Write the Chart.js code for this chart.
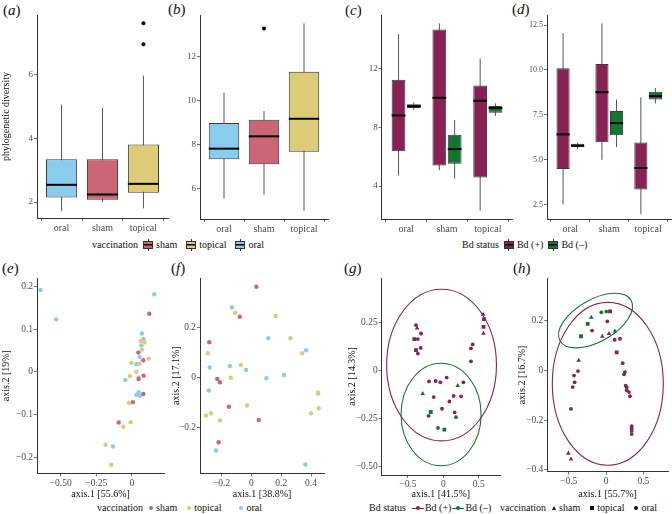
<!DOCTYPE html>
<html>
<head>
<meta charset="utf-8">
<script src="https://cdn.jsdelivr.net/npm/chart.js@4"></script>
<style>
  body { margin: 0; width: 672px; height: 514px; position: relative; overflow: hidden; background: #fff;
         font-family: "Liberation Serif", "DejaVu Serif", serif; color: #111; }
  canvas { position: absolute; }
  .lbl { position: absolute; font-size: 15px; line-height: 1; }
  .leg { position: absolute; font-size: 10px; line-height: 12px; white-space: nowrap; display: flex; align-items: center; }
  .key { position: relative; display: inline-block; width: 8px; height: 6px; border: 1px solid #333; margin: 0 3px 0 5px;
         background-image: linear-gradient(#000, #000); background-size: 100% 1.5px; background-position: center; background-repeat: no-repeat; }
  .key::before, .key::after { content: ''; position: absolute; left: 3.5px; width: 1px; height: 2px; background: #333; }
  .key::before { top: -3px; }
  .key::after { bottom: -3px; }
  .dot { display: inline-block; width: 4px; height: 4px; border-radius: 50%; margin: 0 3px 0 6px; }
  .ln { position: relative; display: inline-block; width: 12px; height: 1px; margin: 0 1px 0 1px; }
  .ln::after { content: ''; position: absolute; left: 4px; top: -1.5px; width: 4px; height: 4px; border-radius: 50%; background: inherit; }
  .tri { display: inline-block; width: 0; height: 0; border-left: 2.5px solid transparent; border-right: 2.5px solid transparent;
         border-bottom: 4.5px solid #111; margin: 0 3px 0 6px; }
  .sq { display: inline-block; width: 4px; height: 4px; background: #111; margin: 0 3px 0 10px; }
  .cdot { display: inline-block; width: 4px; height: 4px; border-radius: 50%; background: #111; margin: 0 3px 0 10px; }
</style>
</head>
<body>
<div class="lbl" style="left:3px;top:3px">(<i>a</i>)</div>
<div class="lbl" style="left:168px;top:2px">(<i>b</i>)</div>
<div class="lbl" style="left:345px;top:3px">(<i>c</i>)</div>
<div class="lbl" style="left:512px;top:2px">(<i>d</i>)</div>
<div class="lbl" style="left:2px;top:261px">(<i>e</i>)</div>
<div class="lbl" style="left:171px;top:261px">(<i>f</i>)</div>
<div class="lbl" style="left:344px;top:261px">(<i>g</i>)</div>
<div class="lbl" style="left:513px;top:261px">(<i>h</i>)</div>

<div class="leg" style="left:92px;top:239px">vaccination<span class="key" style="background-color:#CC6677"></span>sham<span class="key" style="background-color:#DDCC77;margin-left:9px"></span>topical<span class="key" style="background-color:#88CCEE;margin-left:9px"></span>oral</div>
<div class="leg" style="left:462px;top:239px">Bd status<span class="key" style="background-color:#882255"></span>Bd (+)<span class="key" style="background-color:#117733"></span>Bd (–)</div>
<div class="leg" style="left:97px;top:502px">vaccination<span class="dot" style="background:#CC6677"></span>sham<span class="dot" style="background:#DDCC77;margin-left:10px"></span>topical<span class="dot" style="background:#88CCEE;margin-left:18px"></span>oral</div>
<div class="leg" style="left:369px;top:502px">Bd status<span class="ln" style="background:#882255;margin-left:6px"></span>Bd (+)<span class="ln" style="background:#117733"></span>Bd (–)</div>
<div class="leg" style="left:500px;top:502px">vaccination<span class="tri"></span>sham<span class="sq"></span>topical<span class="cdot"></span>oral</div>

<script>
const serif = '"Liberation Serif", "DejaVu Serif", serif';
const vaccNames = ['oral', 'sham', 'topical'];
const vaccColours = ['#88CCEE', '#CC6677', '#DDCC77'];
const bdPosColour = '#882255';
const bdNegColour = '#117733';

// box stats: [lower whisker, Q1, median, Q3, upper whisker] for oral, sham, topical
const aStats = [[1.71, 2.14, 2.54, 3.34, 5.05], [2.0, 2.07, 2.24, 3.34, 4.95], [1.8, 2.29, 2.57, 3.80, 5.96]];
const aOutliers = [[3, 7.6], [3, 6.94]];
const aTicks = [2, 4, 6];

const bStats = [[5.55, 7.34, 7.82, 8.99, 10.36], [5.74, 7.11, 8.38, 9.14, 9.53], [5.0, 7.68, 9.18, 11.32, 13.52]];
const bOutliers = [[2, 13.29]];
const bTicks = [6, 8, 10, 12];

const cPos = [[4.72, 6.37, 8.8, 11.22, 14.33], [5.08, 5.40, 10.0, 14.65, 15.06], [2.34, 4.59, 9.80, 10.84, 12.68]];
const cNeg = [[9.18, 9.3, 9.43, 9.57, 9.69], [4.51, 5.51, 6.51, 7.48, 8.48], [8.77, 8.98, 9.3, 9.44, 9.62]];
const cTicks = [4, 8, 12];

const dPos = [[2.52, 4.49, 6.41, 10.09, 12.05], [5.0, 5.98, 8.76, 10.33, 12.59], [1.96, 3.34, 4.54, 5.96, 8.48]];
const dNeg = [[5.59, 5.70, 5.78, 5.89, 5.96], [5.71, 6.37, 7.04, 7.72, 8.35], [8.14, 8.35, 8.54, 8.78, 8.99]];
const dTicks = [2.5, 5, 7.5, 10, 12.5];

// ordinations (axis.1, axis.2)
const eSham = [[0.122, 0.136], [0.045, 0.045], [0.080, 0.027], [0.047, -0.017], [0.082, -0.009], [0.080, -0.052], [0.007, -0.071], [-0.093, -0.119]];
const eTopical = [[0.061, 0.072], [0.089, 0.069], [0.070, 0.052], [-0.004, 0.021], [0.052, 0.019], [0.117, 0.031], [0.031, 0], [-0.014, -0.010],
  [-0.021, -0.073], [-0.009, -0.118], [-0.060, -0.129], [-0.185, -0.171], [-0.145, -0.218]];
const eOral = [[-0.641, 0.192], [-0.531, 0.123], [0.157, 0.182], [0.070, 0.090], [0.082, 0.077], [0.066, 0.062], [0.054, 0.035], [0.031, 0.018],
  [-0.046, -0.019], [0.047, -0.014], [0.047, -0.048], [0.031, -0.054], [0.057, -0.056], [-0.133, -0.175]];
const eTicksX = [-0.5, -0.25, 0];
const eTicksY = [-0.2, -0.1, 0, 0.1, 0.2];

const fSham = [[0.033, 0.362], [-0.078, 0.242], [-0.283, 0.140], [-0.229, -0.007], [-0.211, -0.020], [-0.151, -0.118], [0.049, -0.171], [-0.220, -0.260]];
const fTopical = [[-0.109, 0.258], [0.162, 0.245], [0.262, 0.156], [-0.293, 0.096], [0.340, 0.096], [-0.071, 0.049], [-0.138, -0.002], [-0.029, -0.113],
  [-0.271, -0.144], [-0.305, -0.153], [-0.211, -0.173], [0.4, -0.144], [0.447, -0.061], [0.447, -0.066], [0.451, -0.124]];
const fOral = [[-0.131, 0.279], [0.113, 0.156], [0.367, 0.108], [-0.280, 0.039], [-0.145, 0.045], [-0.036, 0.029], [0.1, -0.004], [0.218, 0.009],
  [-0.285, -0.053], [-0.238, -0.293], [0.362, -0.349]];
const fTicksX = [-0.2, 0, 0.2, 0.4];
const fTicksY = [-0.2, 0, 0.2];

const gPosSham = [[0.561, 0.292], [0.567, 0.192], [-0.37, 0.22]];
const gPosTopical = [[0.574, 0.267], [-0.41, 0.163], [-0.386, 0.105], [0.567, 0.227]];
const gPosOral = [[-0.386, 0.236], [-0.36, 0.163], [-0.315, 0.192], [-0.36, 0.087], [-0.32, 0.117], [0.415, 0.135], [0.39, 0.114], [0.39, 0.047],
  [-0.202, -0.058], [-0.108, -0.056], [-0.042, -0.063], [0.047, -0.038], [0.283, -0.063], [-0.136, -0.140], [0.146, -0.134], [0.25, -0.136],
  [0.085, -0.163], [-0.019, -0.201], [0.16, -0.220], [-0.207, -0.238]];
const gNegSham = [[0.203, -0.08], [-0.291, -0.122]];
const gNegTopical = [[-0.178, -0.218], [0.014, -0.310]];
const gNegOral = [[0.179, -0.245], [-0.075, -0.301]];
// ellipse: centre, end of first semi-axis, end of second semi-axis
const gEllipsePos = [[-0.025, 0.027], [0.75, 0.027], [-0.025, 0.423]];
const gEllipseNeg = [[-0.032, -0.231], [0.533, -0.231], [-0.032, 0.037]];
const gTicksX = [-0.5, 0, 0.5];
const gTicksY = [-0.5, -0.25, 0, 0.25];

const hPosSham = [[-0.049, 0.136], [0.04, 0.147], [-0.366, 0.04], [-0.504, -0.333], [-0.469, -0.357]];
const hPosTopical = [[0.054, 0.237], [0.143, 0.072]];
const hPosOral = [[0.018, 0.197], [-0.187, 0.16], [0.116, 0.123], [0.187, 0.127], [0.223, 0.029], [0.241, -0.016], [0.254, -0.007], [0.263, -0.061],
  [0.277, -0.068], [0.277, -0.08], [0.308, -0.087], [0.321, -0.104], [0.344, -0.224], [0.344, -0.233], [0.344, -0.243], [0.344, -0.256],
  [-0.375, -0.003], [-0.428, -0.021], [-0.42, -0.048], [-0.446, -0.067], [-0.469, -0.155]];
const hNegSham = [[-0.197, 0.213], [0.12, 0.157]];
const hNegTopical = [[-0.335, 0.137], [-0.245, 0.187]];
const hNegOral = [[-0.063, 0.233], [0.004, 0.236]];
const hEllipsePos = [[0.024, -0.054], [0.767, -0.054], [0.024, 0.273]];
const hEllipseNeg = [[-0.14, 0.2], [0.335, 0.282], [0, 0.127]];
const hTicksX = [-0.5, 0, 0.5];
const hTicksY = [-0.4, -0.2, 0, 0.2];

const minus = v => (v < 0 ? '\u2212' + String(-v) : String(v));
const fixed2 = v => (v === 0 ? '0' : (v < 0 ? '\u2212' : '') + Math.abs(v).toFixed(2));

// whiskers behind the boxes, medians on top
const boxParts = {
  id: 'boxParts',
  beforeDatasetsDraw(chart) { drawBoxParts(chart, false); },
  afterDatasetsDraw(chart) { drawBoxParts(chart, true); }
};
function drawBoxParts(chart, median) {
  const ctx = chart.ctx, y = chart.scales.y;
  chart.data.datasets.forEach((ds, di) => {
    if (!ds.stats) return;
    chart.getDatasetMeta(di).data.forEach((bar, i) => {
      const s = ds.stats[i];
      ctx.save();
      ctx.beginPath();
      if (median) {
        const m = y.getPixelForValue(s[2]);
        ctx.strokeStyle = '#000';
        ctx.lineWidth = 2;
        ctx.moveTo(bar.x - bar.width / 2, m);
        ctx.lineTo(bar.x + bar.width / 2, m);
      } else {
        ctx.strokeStyle = '#555';
        ctx.lineWidth = 1;
        ctx.moveTo(bar.x, y.getPixelForValue(s[0]));
        ctx.lineTo(bar.x, y.getPixelForValue(s[4]));
      }
      ctx.stroke();
      ctx.restore();
    });
  });
}

const ellipses = {
  id: 'ellipses',
  beforeDatasetsDraw(chart, args, opts) {
    const ctx = chart.ctx, x = chart.scales.x, y = chart.scales.y;
    (opts.list || []).forEach(e => {
      const [c, a, b] = e.pts.map(p => [x.getPixelForValue(p[0]), y.getPixelForValue(p[1])]);
      const rx = Math.hypot(a[0] - c[0], a[1] - c[1]);
      const ry = Math.hypot(b[0] - c[0], b[1] - c[1]);
      ctx.save();
      ctx.beginPath();
      ctx.ellipse(c[0], c[1], rx, ry, Math.atan2(a[1] - c[1], a[0] - c[0]), 0, Math.PI * 2);
      ctx.strokeStyle = e.color;
      ctx.lineWidth = 1.1;
      ctx.stroke();
      ctx.restore();
    });
  }
};

function panel(box) {
  const c = document.createElement('canvas');
  c.width = box.w; c.height = box.h;
  c.style.left = box.l + 'px'; c.style.top = box.t + 'px';
  c.style.width = box.w + 'px'; c.style.height = box.h + 'px';
  document.body.appendChild(c);
  return c;
}

function axis(min, max, ticks, size, fmt, fontSize, title) {
  return {
    type: 'linear', min, max, offset: false,
    afterBuildTicks: s => { s.ticks = ticks.map(v => ({ value: v })); },
    afterFit: s => { if (s.isHorizontal()) s.height = size; else s.width = size; },
    ticks: { callback: fmt, color: '#4d4d4d', font: { family: serif, size: fontSize }, padding: 1, autoSkip: false, maxRotation: 0 },
    grid: { drawOnChartArea: false, drawTicks: true, tickLength: 3, color: '#4d4d4d', lineWidth: 0.8 },
    border: { color: '#333', width: 1 },
    title: { display: !!title, text: title, color: '#111', font: { family: serif, size: 10 }, padding: 0 }
  };
}

function baseOptions(box, area, scales, extra) {
  return Object.assign({
    responsive: false, animation: false, events: [],
    layout: { padding: { left: 0, top: area.t - box.t, right: box.l + box.w - area.r, bottom: 0 } },
    plugins: { legend: { display: false }, tooltip: { enabled: false } },
    scales
  }, extra || {});
}

const pts = arr => arr.map(p => ({ x: p[0], y: p[1] }));
const boxData = stats => stats.map((s, i) => ({ x: i + 1, y: [s[1], s[3]] }));

function boxPanel(box, area, yMin, yMax, yTicks, yFont, yFmt, datasets, yTitle) {
  const xAx = axis(0.4, 3.6, [1, 2, 3], box.t + box.h - area.b, v => vaccNames[v - 1], 10);
  const yAx = axis(yMin, yMax, yTicks, area.l - box.l, yFmt, yFont, yTitle);
  new Chart(panel(box), {
    type: 'bar',
    data: { datasets },
    options: baseOptions(box, area, { x: xAx, y: yAx }),
    plugins: [boxParts]
  });
}

function boxSet(stats, colour, cp, bp) {
  return { data: boxData(stats), stats, backgroundColor: colour, borderColor: '#3a3a3a', borderWidth: 1,
           borderSkipped: false, categoryPercentage: cp, barPercentage: bp };
}
function outlierSet(arr) {
  return { type: 'scatter', data: pts(arr), pointRadius: 2, backgroundColor: '#000', borderWidth: 0 };
}

// (a)
boxPanel({ l: 0, t: 0, w: 172, h: 240 }, { l: 37, t: 15, r: 170.5, b: 218 }, 1.5, 7.86, aTicks, 9, String,
  [boxSet(aStats, vaccColours, 0.76, 1), outlierSet(aOutliers)], 'phylogenetic diversity');
// (b)
boxPanel({ l: 168, t: 0, w: 164, h: 240 }, { l: 200, t: 15, r: 330.6, b: 219 }, 4.62, 13.9, bTicks, 9, String,
  [boxSet(bStats, vaccColours, 0.76, 1), outlierSet(bOutliers)]);
// (c)
boxPanel({ l: 335, t: 0, w: 179, h: 240 }, { l: 381.7, t: 15, r: 512.3, b: 219 }, 1.76, 15.63, cTicks, 9, String,
  [boxSet(cPos, bdPosColour, 0.75, 0.9), boxSet(cNeg, bdNegColour, 0.75, 0.9)]);
// (d)
boxPanel({ l: 515, t: 0, w: 157, h: 240 }, { l: 547, t: 15, r: 671.5, b: 219 }, 1.70, 13.06, dTicks, 8, v => v.toFixed(1),
  [boxSet(dPos, bdPosColour, 0.75, 0.9), boxSet(dNeg, bdNegColour, 0.75, 0.9)]);

function scatterPanel(box, area, xr, yr, xTicks, yTicks, xFmt, yFmt, xTitle, yTitle, datasets, ellipseList) {
  const xAx = axis(xr[0], xr[1], xTicks, box.t + box.h - area.b, xFmt, 9.5, xTitle);
  const yAx = axis(yr[0], yr[1], yTicks, area.l - box.l, yFmt, 9.5, yTitle);
  const opts = baseOptions(box, area, { x: xAx, y: yAx });
  opts.plugins.ellipses = { list: ellipseList || [] };
  new Chart(panel(box), { type: 'scatter', data: { datasets }, options: opts, plugins: [ellipses] });
}
function dotSet(arr, colour, style, r) {
  return { data: pts(arr), backgroundColor: colour, borderColor: colour, borderWidth: 0, pointStyle: style || 'circle', pointRadius: r || 2.2 };
}

// (e)
scatterPanel({ l: 0, t: 260, w: 168, h: 240 }, { l: 37, t: 278, r: 165, b: 473.3 }, [-0.666, 0.225], [-0.238, 0.22],
  eTicksX, eTicksY, fixed2, minus, 'axis.1 [55.6%]', 'axis.2 [19%]',
  [dotSet(eSham, '#CC6677'), dotSet(eTopical, '#DDCC77'), dotSet(eOral, '#88CCEE')]);
// (f)
scatterPanel({ l: 170, t: 260, w: 158, h: 240 }, { l: 200, t: 278, r: 325, b: 473.3 }, [-0.345, 0.487], [-0.384, 0.397],
  fTicksX, fTicksY, minus, minus, 'axis.1 [38.8%]', 'axis.2 [17.1%]',
  [dotSet(fSham, '#CC6677'), dotSet(fTopical, '#DDCC77'), dotSet(fOral, '#88CCEE')]);
// (g)
scatterPanel({ l: 346, t: 260, w: 158, h: 240 }, { l: 381.7, t: 278, r: 500, b: 475 }, [-0.87, 0.80], [-0.547, 0.482],
  gTicksX, gTicksY, minus, fixed2, 'axis.1 [41.5%]', 'axis.2 [14.3%]',
  [dotSet(gPosSham, bdPosColour, 'triangle', 2.7), dotSet(gPosTopical, bdPosColour, 'rect', 2.7), dotSet(gPosOral, bdPosColour, 'circle', 1.9),
   dotSet(gNegSham, bdNegColour, 'triangle', 2.7), dotSet(gNegTopical, bdNegColour, 'rect', 2.7), dotSet(gNegOral, bdNegColour, 'circle', 1.9)],
  [{ pts: gEllipsePos, color: bdPosColour }, { pts: gEllipseNeg, color: bdNegColour }]);
// (h)
scatterPanel({ l: 516, t: 260, w: 156, h: 240 }, { l: 547.3, t: 278, r: 668, b: 471.7 }, [-0.786, 0.83], [-0.407, 0.371],
  hTicksX, hTicksY, minus, minus, 'axis.1 [55.7%]', 'axis.2 [16.7%]',
  [dotSet(hPosSham, bdPosColour, 'triangle', 2.7), dotSet(hPosTopical, bdPosColour, 'rect', 2.7), dotSet(hPosOral, bdPosColour, 'circle', 1.9),
   dotSet(hNegSham, bdNegColour, 'triangle', 2.7), dotSet(hNegTopical, bdNegColour, 'rect', 2.7), dotSet(hNegOral, bdNegColour, 'circle', 1.9)],
  [{ pts: hEllipsePos, color: bdPosColour }, { pts: hEllipseNeg, color: bdNegColour }]);
</script>
</body>
</html>
